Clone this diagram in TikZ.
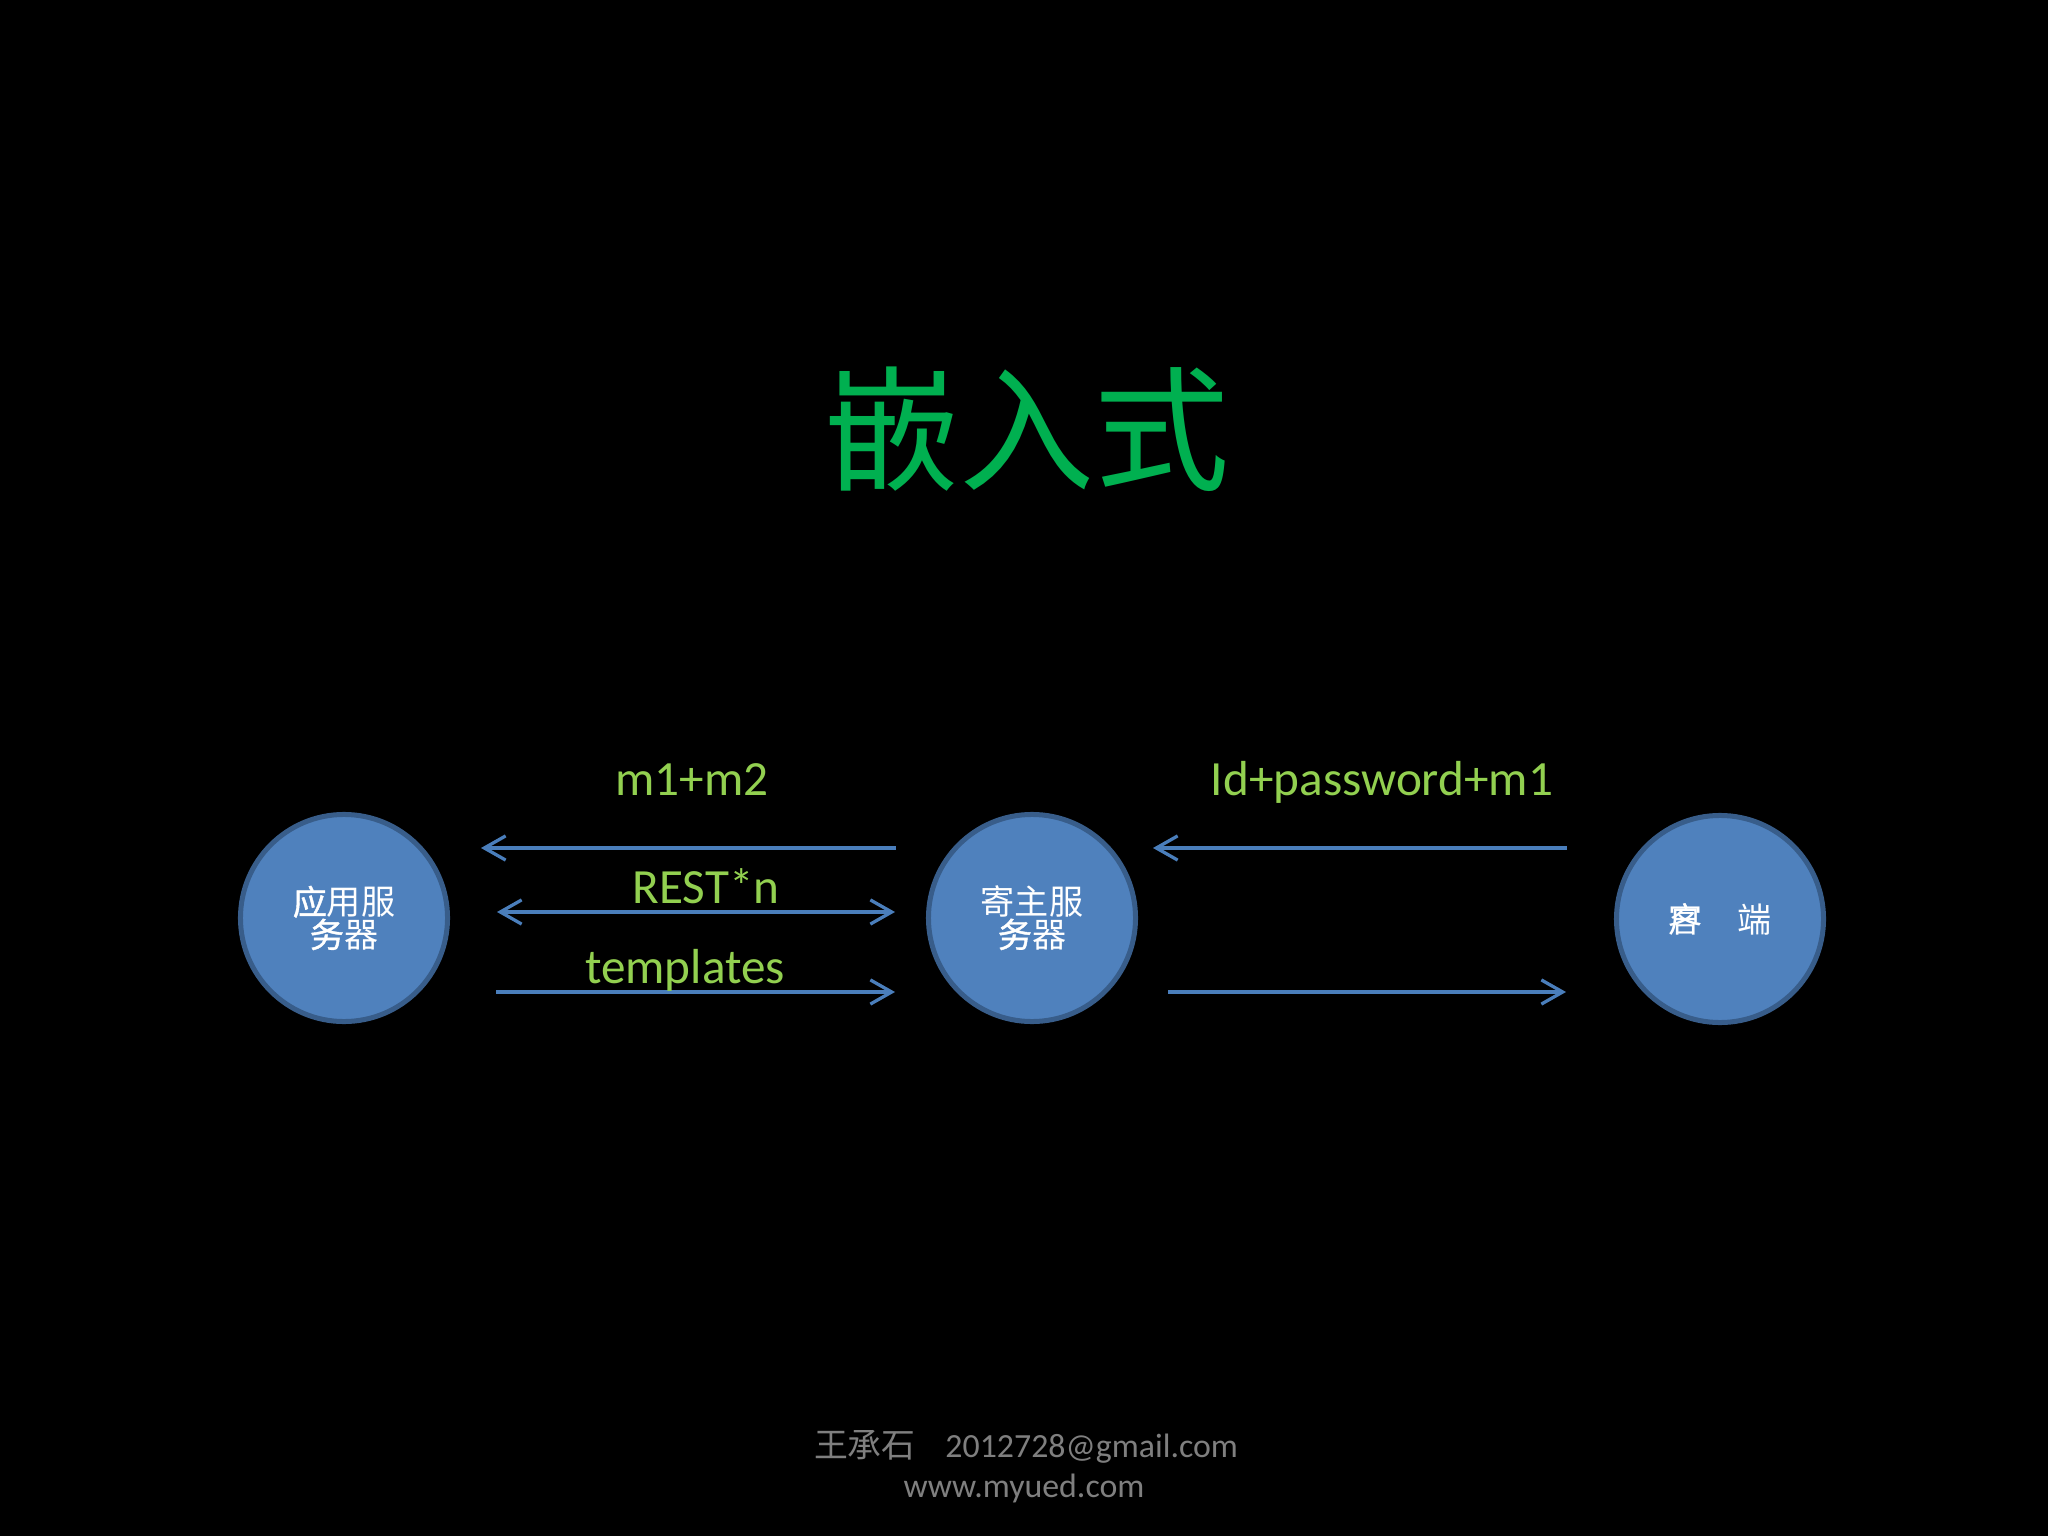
\documentclass[tikz,border=0pt]{standalone}
\usepackage{fontspec}
\setmainfont{Carlito}
\newfontfamily\cjk{Noto Sans CJK SC}
\newfontfamily\cjkb[FakeBold=1.2]{Noto Sans CJK SC}
\usetikzlibrary{arrows.meta}
\definecolor{titlegreen}{HTML}{00B050}
\definecolor{lblgreen}{HTML}{92D050}
\definecolor{cfill}{HTML}{4F81BD}
\definecolor{cline}{HTML}{385D8A}
\definecolor{arrowblue}{HTML}{4A7EBB}
\definecolor{footgray}{HTML}{7F7F7F}
\begin{document}
\begin{tikzpicture}[x=0.3515625pt,y=-0.3515625pt,
  server/.style={circle,fill=cfill,draw=cline,line width=1.76pt,minimum size=72.8pt,inner sep=0pt,text=white,align=center,font=\cjk\fontsize{12}{11.5}\selectfont},
  lbl/.style={text=lblgreen,font=\fontsize{17.3}{20}\selectfont,anchor=base,inner sep=0pt},
  link/.style={draw=arrowblue,line width=1.15pt},
  tipend/.style={-{Straight Barb[length=7.5pt,width=8.5pt]}},
  tipboth/.style={{Straight Barb[length=7.5pt,width=8.5pt]}-{Straight Barb[length=7.5pt,width=8.5pt]}},
  foot/.style={text=footgray,font=\fontsize{11.9}{14}\selectfont,anchor=base,inner sep=0pt}
]
\fill[black] (0,0) rectangle (2048,1536);
\useasboundingbox (0,0) rectangle (2048,1536);

\node[text=titlegreen,font=\cjk\fontsize{47.5}{50}\selectfont] (title) at (1027,429) {嵌入式};

\node[server] (app) at (344,918) {{\cjkb 应}用服\\{\cjkb 务}器};
\node[server] (host) at (1032,918) {寄主服\\{\cjkb 务}器};
\node[server] (client) at (1720,919) {\makebox[12pt]{\rlap{户}客}\hspace{12pt}端};

\coordinate (a1s) at (896,848); \coordinate (a1e) at (481,848);
\coordinate (a2s) at (497,912); \coordinate (a2e) at (895,912);
\coordinate (a3s) at (496,992); \coordinate (a3e) at (895,992);
\coordinate (b1s) at (1567,848); \coordinate (b1e) at (1153,848);
\coordinate (b2s) at (1168,992); \coordinate (b2e) at (1566,992);

\draw[link,tipend] (a1s) -- (a1e);
\draw[link,tipboth] (a2s) -- (a2e);
\draw[link,tipend] (a3s) -- (a3e);
\draw[link,tipend] (b1s) -- (b1e);
\draw[link,tipend] (b2s) -- (b2e);

\node[lbl] (m12) at (692,795) {m1+m2};
\node[lbl] (rest) at (706,903) {REST*n};
\node[lbl] (tpl) at (685,983) {templates};
\node[lbl] (idpw) at (1382,795) {Id+password+m1};

\node[foot] (foot1) at (1026,1457) {{\cjk 王承石}\hspace{10.5pt}2012728@gmail.com};
\node[foot] (foot2) at (1024,1497) {www.myued.com};
\end{tikzpicture}
\end{document}
